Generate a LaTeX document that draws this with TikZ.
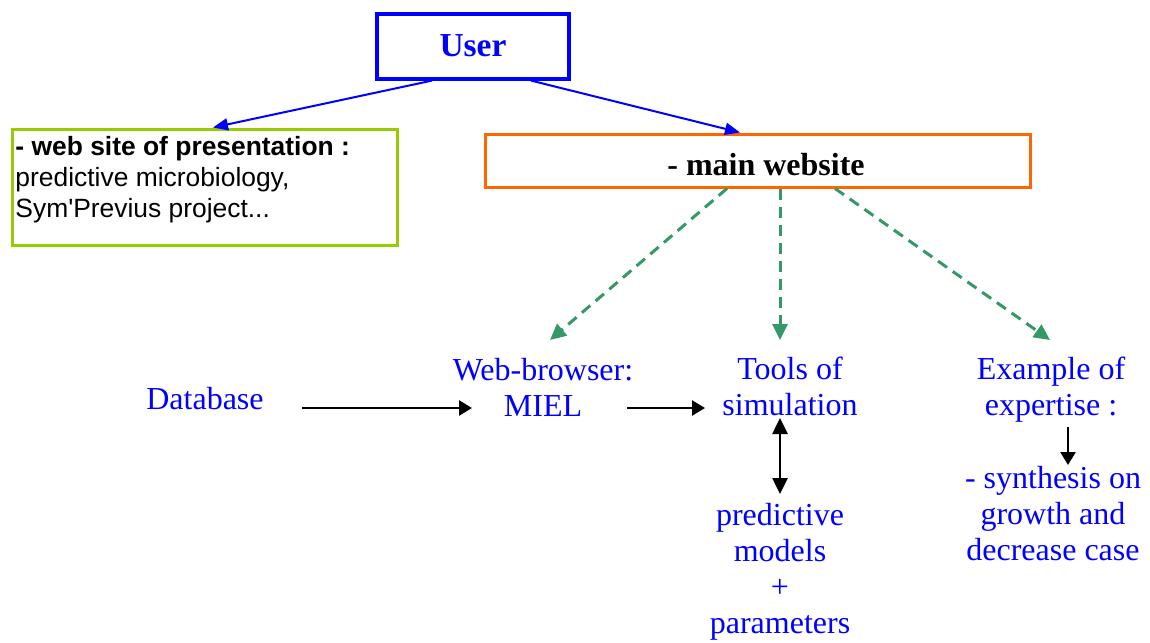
\documentclass[tikz,border=0pt]{standalone}
\usepackage{fontspec}
\setmainfont{Liberation Serif}
\newfontfamily\arialf{Liberation Sans}[Ligatures=TeXOff]
\usetikzlibrary{arrows.meta}
\definecolor{ublue}{RGB}{0,0,255}
\definecolor{uorange}{RGB}{255,102,0}
\definecolor{ugreen}{RGB}{153,204,0}
\definecolor{dgreen}{RGB}{51,153,102}
\begin{document}
\begin{tikzpicture}[x=0.5pt,y=-0.5pt,
  bluetext/.style={text=ublue, font=\fontsize{16pt}{18pt}\selectfont, align=center, inner sep=0pt},
  bluearrow/.style={draw=ublue, line width=1pt, -{Triangle[length=7.5pt,width=6pt]}},
  dasharrow/.style={draw=dgreen, line width=1.5pt, dash pattern=on 5.5pt off 3.5pt, -{Triangle[length=8pt,width=7.5pt]}},
  blackarrow/.style={draw=black, line width=1.3pt, -{Triangle[length=6.5pt,width=7.5pt]}},
  dblarrow/.style={draw=black, line width=1.3pt, {Triangle[length=8pt,width=7.5pt]}-{Triangle[length=8pt,width=7.5pt]}},
  userbox/.style={draw=ublue, line width=1.6pt, minimum width=96pt, minimum height=32.5pt, text=ublue, font=\bfseries\fontsize{16.75pt}{20pt}\selectfont, inner sep=0pt, text height=10.5pt, text depth=0pt},
  mainbox/.style={draw=uorange, line width=1.5pt, minimum width=272.5pt, minimum height=26.5pt, inner sep=0pt, text height=14.5pt, text depth=0pt, font=\bfseries\fontsize{16pt}{19pt}\selectfont},
  presbox/.style={draw=ugreen, line width=1.5pt, inner sep=0pt, minimum width=192.5pt, minimum height=58pt}
]
\useasboundingbox (0,0) rectangle (1150,642);

\node[userbox] (user) at (473,46.5) {User};
\node[presbox] (pres) at (204.5,187) {\parbox[c][58pt][t]{189pt}{\arialf\fontsize{13.2pt}{15.5pt}\selectfont\rule{0pt}{13pt}\textbf{- web site of presentation :}\\predictive microbiology,\\Sym'Previus project...}};
\node[mainbox] (main) at (757.5,160.5) {\hspace*{8.5pt}- main website};

\node[bluetext, anchor=base] (db) at (205,409) {Database};
\node[bluetext] (miel) at (543,387) {Web-browser:\\MIEL};
\node[bluetext] (tools) at (790,386) {Tools of\\simulation};
\node[bluetext] (example) at (1051,389.5) {Example of\\expertise :};
\node[bluetext] (synth) at (1053,513.5) {- synthesis on\\growth and\\decrease case};
\node[bluetext] (pred) at (780,571.5) {predictive\\models\\+\\parameters};

\draw[bluearrow] ([xshift=-20.5pt]user.south) -- ([xshift=4.25pt]pres.north);
\draw[bluearrow] ([xshift=29pt]user.south) -- ([xshift=-8.75pt]main.north);

\draw[dasharrow] ([xshift=-15.25pt]main.south) -- ([xshift=3.5pt,yshift=23.5pt]miel.center);
\draw[dasharrow] ([xshift=11.25pt]main.south) -- ([xshift=-5pt,yshift=23pt]tools.center);
\draw[dasharrow] ([xshift=38.75pt]main.south) -- ([xshift=-0.5pt,yshift=24.75pt]example.center);

\draw[blackarrow] ([xshift=19pt,yshift=0.5pt]db.base east) -- ([xshift=-35.5pt,yshift=-10.5pt]miel.center);
\draw[blackarrow] ([xshift=42pt,yshift=-10.5pt]miel.center) -- ([xshift=-42.5pt,yshift=-11pt]tools.center);
\draw[dblarrow] ([xshift=-5pt,yshift=-16pt]tools.center) -- ([yshift=38.75pt]pred.center);
\draw[blackarrow] ([xshift=8.5pt,yshift=-18.75pt]example.center) -- ([xshift=7.5pt,yshift=24.25pt]synth.center);
\end{tikzpicture}
\end{document}
